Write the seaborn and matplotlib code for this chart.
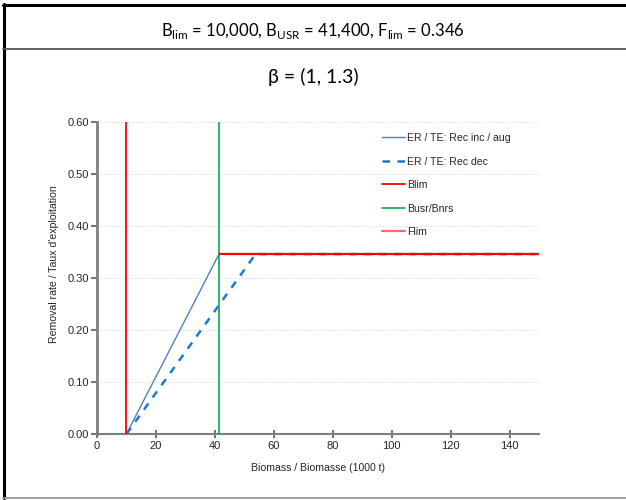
import matplotlib
matplotlib.use("Agg")
import matplotlib.pyplot as plt
from matplotlib.lines import Line2D
import numpy as np
import pandas as pd
import seaborn as sns

# Reference points and harvest control rule parameters
blim = 10.0          # 1000 t
busr = 41.4          # 1000 t
flim = 0.346
beta = (1, 1.3)

# Removal rate rule when recruitment increases / when it decreases
rec_inc_x = [0, 10, 41.4, 150]
rec_inc_y = [0.0, 0.0, 0.346, 0.346]
rec_dec_x = [10, 53.82, 150]
rec_dec_y = [0.0, 0.346, 0.346]

x_ticks = [0, 20, 40, 60, 80, 100, 120, 140]
y_ticks = [0.0, 0.1, 0.2, 0.3, 0.4, 0.5, 0.6]

labels = ["ER / TE: Rec inc / aug", "ER / TE: Rec dec", "Blim", "Busr/Bnrs", "Flim"]

sns.set_theme(style="white")
plt.rcParams["font.family"] = ["Liberation Sans", "DejaVu Sans"]

df = pd.concat([
    pd.DataFrame({"biomass": rec_inc_x, "rate": rec_inc_y, "rule": labels[0]}),
    pd.DataFrame({"biomass": rec_dec_x, "rate": rec_dec_y, "rule": labels[1]}),
], ignore_index=True)

fig = plt.figure(figsize=(6.26, 5.0), dpi=100)
fig.patch.set_facecolor("white")
ax = fig.add_axes([97 / 626, 1 - 434 / 500, 442 / 626, 312 / 500])

c_inc = "#4F81BD"
c_dec = "#1F78D0"
c_blim = "#FF0000"
c_busr = "#00B050"
c_flim = "#FF0000"

sns.lineplot(data=df[df.rule == labels[0]], x="biomass", y="rate", ax=ax,
             color=c_inc, lw=1.0, estimator=None, sort=False, zorder=3, legend=False)
sns.lineplot(data=df[df.rule == labels[1]], x="biomass", y="rate", ax=ax,
             color=c_dec, lw=1.8, estimator=None, sort=False, zorder=3,
             dashes=False, legend=False)
ax.lines[-1].set_dashes((3.0, 3.0))

ax.vlines(blim, 0, 0.6, color=c_blim, lw=1.3, zorder=4)
ax.vlines(busr, 0, 0.6, color=c_busr, lw=1.2, zorder=4)
ax.hlines(flim, busr, 150, color=c_flim, lw=1.6, zorder=5)

ax.set_xlim(0, 150)
ax.set_ylim(0, 0.6)
ax.set_xticks(x_ticks)
ax.set_yticks(y_ticks)
ax.set_yticklabels([f"{v:.2f}" for v in y_ticks])
ax.yaxis.grid(True, color="#DDDDDD", ls=(0, (1.2, 1.5)), lw=0.8)
ax.xaxis.grid(False)
for s in ("top", "right"):
    ax.spines[s].set_visible(False)
ax.spines["left"].set_color("#7F7F7F")
ax.spines["left"].set_linewidth(2.0)
ax.spines["bottom"].set_color("#7F7F7F")
ax.spines["bottom"].set_linewidth(1.5)
ax.tick_params(axis="y", direction="out", length=4, width=1.2, color="#595959",
               labelsize=8, labelcolor="#262626", pad=2, left=True)
ax.tick_params(axis="x", direction="inout", length=6, width=1.2, color="#595959",
               labelsize=8, labelcolor="#262626", pad=2, bottom=True)

ax.set_xlabel("Biomass / Biomasse (1000 t)", fontsize=7.6, color="#262626", labelpad=9)
ax.set_ylabel("Removal rate / Taux d'exploitation", fontsize=7.6, color="#262626")
ax.yaxis.set_label_coords(-0.085, 0.545)

handles = [
    Line2D([], [], color=c_inc, lw=1.0),
    Line2D([], [], color=c_dec, lw=1.8, dashes=(3.0, 3.0)),
    Line2D([], [], color=c_blim, lw=1.3),
    Line2D([], [], color=c_busr, lw=1.2),
    Line2D([], [], color="#FF6B6B", lw=1.6),
]
leg = ax.legend(handles, labels, loc="upper left", bbox_to_anchor=(0.635, 0.978),
                frameon=False, fontsize=7.6, handlelength=2.2, handletextpad=0.2,
                labelspacing=1.28, borderaxespad=0)
for t in leg.get_texts():
    t.set_color("#262626")

# Header texts
fig.text(313 / 626, 1 - 31 / 500,
         r"B$_{\mathregular{lim}}$ = 10,000, B$_{\mathregular{USR}}$ = 41,400, F$_{\mathregular{lim}}$ = 0.346",
         ha="center", va="center", fontsize=12, family=["Lato", "DejaVu Sans"], color="black")
fig.text(313 / 626, 1 - 77 / 500, f"β = ({beta[0]}, {beta[1]})",
         ha="center", va="center", fontsize=14, family=["Lato", "DejaVu Sans"], color="black")

# Table-like frame around the figure
fig.add_artist(Line2D([0.004, 1.0], [1 - 4.5 / 500, 1 - 4.5 / 500], color="black", lw=2.2,
                      transform=fig.transFigure))
fig.add_artist(Line2D([3.5 / 626, 3.5 / 626], [1 - 4 / 500, 1 - 498 / 500], color="black", lw=2.2,
                      transform=fig.transFigure))
fig.add_artist(Line2D([0.004, 1.0], [1 - 48.5 / 500, 1 - 48.5 / 500], color="#555555", lw=1.3,
                      transform=fig.transFigure))
fig.add_artist(Line2D([0.004, 1.0], [1 - 498 / 500, 1 - 498 / 500], color="#999999", lw=1.3,
                      transform=fig.transFigure))

fig.savefig("out.png", dpi=100)
